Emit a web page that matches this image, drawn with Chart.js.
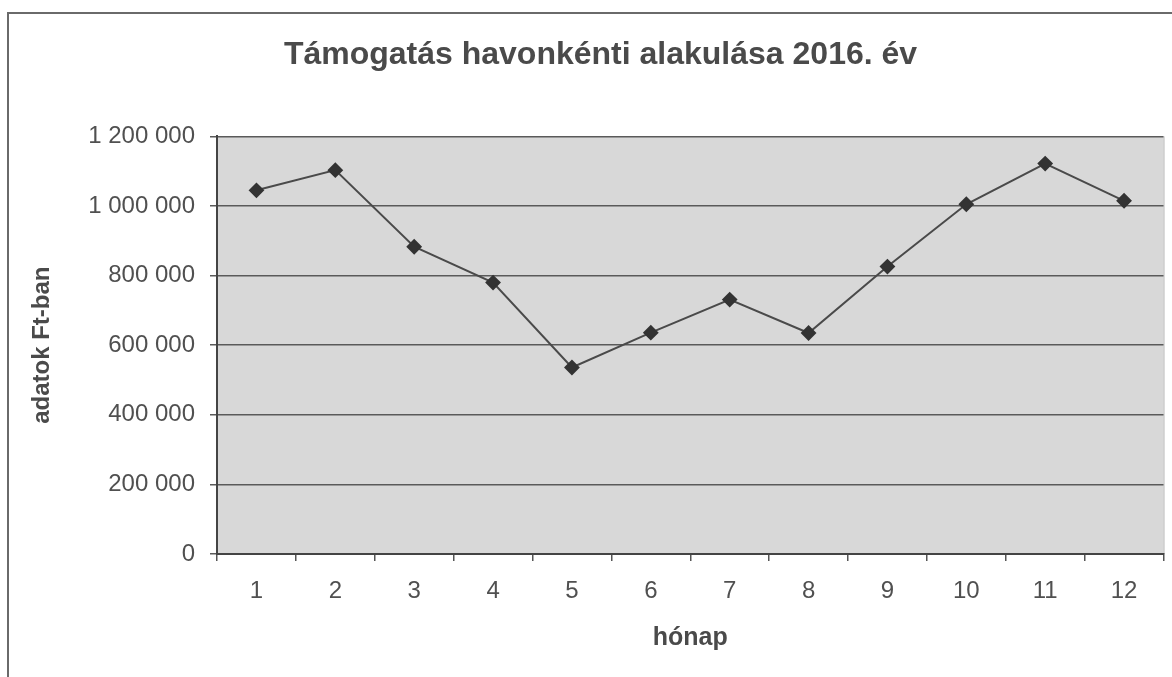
<!DOCTYPE html>
<html>
<head>
<meta charset="utf-8">
<script src="https://cdn.jsdelivr.net/npm/chart.js@4"></script>
<style>
  body { margin: 0; background: #fff; }
  .wrap { position: relative; width: 1172px; height: 677px; overflow: hidden; }
  .frame { position: absolute; left: 7px; top: 12px; width: 1180px; height: 700px; border: 2px solid #6a6a6a; box-sizing: border-box; }
  canvas { position: absolute; left: 0; top: 0; }
</style>
</head>
<body>
<div class="wrap">
  <div class="frame"></div>
  <canvas id="grafico" width="1172" height="677"></canvas>
</div>
<script>
var honapok = ['1', '2', '3', '4', '5', '6', '7', '8', '9', '10', '11', '12'];
var tamogatas = [1045000, 1103000, 883000, 780000, 536000, 636000, 731000, 635000, 826000, 1005000, 1122000, 1015000];
var yTicks = [0, 200000, 400000, 600000, 800000, 1000000, 1200000];

var font = 'Liberation Sans, Arial, sans-serif';

var plotBg = {
    id: 'plotBg',
    beforeDraw: function (chart) {
        var a = chart.chartArea, ctx = chart.ctx;
        ctx.save();
        ctx.fillStyle = '#d8d8d8';
        ctx.fillRect(a.left, a.top, a.right - a.left, a.bottom - a.top);
        ctx.strokeStyle = '#b5b5b5';
        ctx.lineWidth = 1;
        ctx.beginPath();
        ctx.moveTo(a.right + 0.5, a.top);
        ctx.lineTo(a.right + 0.5, a.bottom);
        ctx.stroke();
        ctx.restore();
    }
};

var myChart = new Chart(document.getElementById('grafico'), {
    type: 'line',
    data: {
        labels: honapok,
        datasets: [{
            label: 'támogatás',
            data: tamogatas,
            borderColor: '#4a4a4a',
            borderWidth: 2,
            pointStyle: 'rectRot',
            pointRadius: 6.5,
            pointBackgroundColor: '#333',
            pointBorderColor: '#333',
            tension: 0
        }]
    },
    options: {
        responsive: false,
        animation: false,
        layout: { padding: { left: 34, right: 5, top: 0, bottom: 0 } },
        plugins: {
            legend: { display: false },
            tooltip: { enabled: false },
            title: {
                display: true,
                text: 'Támogatás havonkénti alakulása 2016. év',
                color: '#4a4a4a',
                font: { family: font, size: 32, weight: 'bold' },
                padding: { top: 36, bottom: 62 }
            }
        },
        scales: {
            x: {
                offset: true,
                grid: { offset: true, drawOnChartArea: false, drawTicks: true, tickLength: 7, color: '#555', lineWidth: 1.5 },
                border: { color: '#444', width: 2 },
                ticks: { color: '#505050', font: { family: font, size: 24 }, padding: 16, maxRotation: 0 },
                title: { display: true, text: 'hónap', color: '#4a4a4a', font: { family: font, size: 25, weight: 'bold' }, padding: { top: 10, bottom: 24 } },
                afterFit: function (s) { s.height = 123; }
            },
            y: {
                min: 0,
                max: 1200000,
                afterBuildTicks: function (s) { s.ticks = yTicks.map(function (v) { return { value: v }; }); },
                grid: { color: '#5a5a5a', lineWidth: 1.5, tickLength: 7 },
                border: { color: '#444', width: 2 },
                ticks: {
                    color: '#505050',
                    font: { family: font, size: 24 },
                    padding: 15,
                    callback: function (v) { return String(v).replace(/\B(?=(\d{3})+(?!\d))/g, ' '); }
                },
                title: { display: true, text: 'adatok Ft-ban', color: '#4a4a4a', font: { family: font, size: 24, weight: 'bold' }, padding: { top: -6, bottom: 6 } },
                afterFit: function (s) { s.width = 183; }
            }
        }
    },
    plugins: [plotBg]
});
</script>
</body>
</html>
